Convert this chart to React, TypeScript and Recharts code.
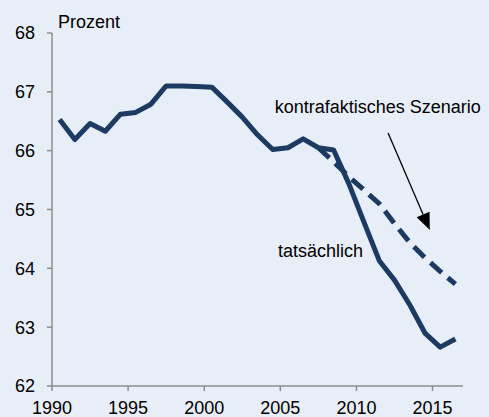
import React from "react";
import {
  LineChart,
  Line,
  XAxis,
  YAxis,
  ReferenceDot,
  ReferenceLine,
} from "recharts";

// Erwerbsquote, Prozent
const years = [
  1990, 1991, 1992, 1993, 1994, 1995, 1996, 1997, 1998, 1999, 2000, 2001, 2002,
  2003, 2004, 2005, 2006, 2007, 2008, 2009, 2010, 2011, 2012, 2013, 2014, 2015,
  2016,
];
const tatsaechlich = [
  66.53, 66.19, 66.46, 66.33, 66.62, 66.65, 66.79, 67.1, 67.1, 67.09, 67.08,
  66.83, 66.57, 66.27, 66.02, 66.05, 66.2, 66.05, 66.01, 65.44, 64.78, 64.13,
  63.8, 63.38, 62.9, 62.66, 62.8,
];
const scenarioYears = [2007, 2008, 2009, 2010, 2011, 2012, 2013, 2014, 2015, 2016];
const kontrafaktisch = [
  66.05, 65.81, 65.56, 65.33, 65.1, 64.76, 64.44, 64.18, 63.95, 63.73,
];
const xTicks = [1990, 1995, 2000, 2005, 2010, 2015];
const yTicks = [62, 63, 64, 65, 66, 67, 68];

const BG = "#e8eef7";
const NAVY = "#1d3a62";
const AXIS = "#8c8c8c";
const FONT = "'Liberation Sans', Arial, sans-serif";

// points sit in the middle of each year, like an Excel category axis
const data = years.map((year, i) => {
  const j = scenarioYears.indexOf(year);
  return {
    x: year + 0.5,
    actual: tatsaechlich[i],
    scenario: j >= 0 ? kontrafaktisch[j] : undefined,
  };
});

const textShape = (label: string) => (props: any) => (
  <text
    x={props.cx}
    y={props.cy}
    fontFamily={FONT}
    fontSize={18}
    fill="#000"
  >
    {label}
  </text>
);

const arrowShape = (props: any) => {
  const { x1, y1, x2, y2 } = props;
  const dx = x2 - x1;
  const dy = y2 - y1;
  const len = Math.sqrt(dx * dx + dy * dy);
  const ux = dx / len;
  const uy = dy / len;
  const head = 17;
  const half = 7;
  const bx = x2 - ux * head;
  const by = y2 - uy * head;
  return (
    <g>
      <line x1={x1} y1={y1} x2={bx} y2={by} stroke="#000" strokeWidth={1.3} />
      <polygon
        points={`${x2},${y2} ${bx - uy * half},${by + ux * half} ${bx + uy * half},${by - ux * half}`}
        fill="#000"
      />
    </g>
  );
};

export default function App() {
  return (
    <div
      style={{
        position: "absolute",
        left: 0,
        top: 0,
        width: 489,
        height: 417,
        background: BG,
      }}
    >
      <LineChart
        width={489}
        height={417}
        data={data}
        margin={{ top: 33, right: 26, bottom: 0, left: 0 }}
      >
        <XAxis
          dataKey="x"
          type="number"
          domain={[1990, 2017]}
          ticks={xTicks}
          allowDecimals={false}
          height={31}
          tickSize={5}
          tickMargin={10}
          stroke={AXIS}
          strokeWidth={1.5}
          tick={{ fill: "#000", fontSize: 18, fontFamily: FONT }}
        />
        <YAxis
          type="number"
          domain={[62, 68]}
          ticks={yTicks}
          width={52}
          tickSize={5}
          tickMargin={12}
          stroke={AXIS}
          strokeWidth={1.5}
          tick={{ fill: "#000", fontSize: 18, fontFamily: FONT }}
        />
        <Line
          dataKey="scenario"
          stroke={NAVY}
          strokeWidth={5}
          strokeDasharray="15 8"
          dot={false}
          isAnimationActive={false}
          connectNulls={false}
        />
        <Line
          dataKey="actual"
          stroke={NAVY}
          strokeWidth={5}
          strokeLinejoin="round"
          dot={false}
          isAnimationActive={false}
        />
        <ReferenceLine
          segment={[
            { x: 2012.08, y: 66.3 },
            { x: 2014.82, y: 64.65 },
          ]}
          ifOverflow="visible"
          shape={arrowShape}
        />
        <ReferenceDot
          x={1990.4}
          y={68.09}
          r={0}
          ifOverflow="visible"
          shape={textShape("Prozent")}
        />
        <ReferenceDot
          x={2004.63}
          y={66.645}
          r={0}
          ifOverflow="visible"
          shape={textShape("kontrafaktisches Szenario")}
        />
        <ReferenceDot
          x={2004.84}
          y={64.2}
          r={0}
          ifOverflow="visible"
          shape={textShape("tatsächlich")}
        />
      </LineChart>
    </div>
  );
}
